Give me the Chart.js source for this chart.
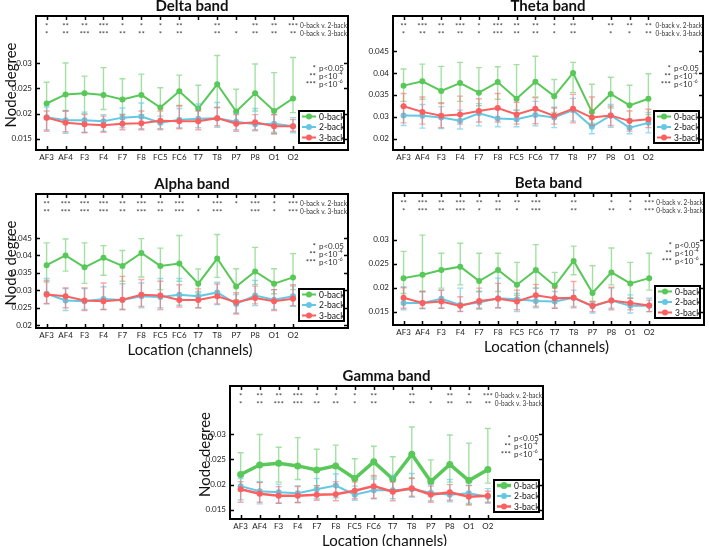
<!DOCTYPE html>
<html><head><meta charset="utf-8">
<script src="https://cdn.jsdelivr.net/npm/chart.js@4/dist/chart.umd.min.js"></script>
<style>
html,body{margin:0;padding:0;background:#fff;}
#wrap{position:relative;width:709px;height:546px;overflow:hidden;}
#wrap canvas{position:absolute;left:0;top:0;}
</style></head><body><div id="wrap">
<canvas id="cDelta" width="709" height="546"></canvas>
<canvas id="cTheta" width="709" height="546"></canvas>
<canvas id="cAlpha" width="709" height="546"></canvas>
<canvas id="cBeta" width="709" height="546"></canvas>
<canvas id="cGamma" width="709" height="546"></canvas>
</div>
<script>
// ---------------- DATA ----------------
const channels = ['AF3','AF4','F3','F4','F7','F8','FC5','FC6','T7','T8','P7','P8','O1','O2'];
const seriesLabels = ['0-back','2-back','3-back'];
const compLabels = ['0-back v. 2-back','0-back v. 3-back'];
const pLegendStars = ['*','**','***'];
const pLegendText = ['p<0.05','p<10','p<10'];
const pLegendExp = ['','-4','-6'];

// Delta band
const deltaMean0 = [0.0220,0.0238,0.0240,0.0237,0.0228,0.0237,0.0212,0.0244,0.0210,0.0258,0.0204,0.0240,0.0205,0.0230];
const deltaHi0   = [0.0262,0.0300,0.0274,0.0291,0.0269,0.0278,0.0251,0.0276,0.0256,0.0315,0.0248,0.0298,0.0281,0.0311];
const deltaLo0   = [0.0188,0.0205,0.0200,0.0208,0.0199,0.0198,0.0180,0.0215,0.0185,0.0212,0.0185,0.0205,0.0160,0.0202];
const deltaMean2 = [0.0193,0.0187,0.0187,0.0185,0.0192,0.0194,0.0182,0.0188,0.0190,0.0191,0.0184,0.0179,0.0180,0.0175];
const deltaHi2   = [0.0213,0.0206,0.0203,0.0198,0.0211,0.0221,0.0195,0.0210,0.0219,0.0222,0.0200,0.0210,0.0198,0.0192];
const deltaLo2   = [0.0168,0.0161,0.0163,0.0165,0.0172,0.0170,0.0168,0.0172,0.0172,0.0173,0.0168,0.0166,0.0163,0.0162];
const deltaMean3 = [0.0192,0.0182,0.0179,0.0177,0.0180,0.0181,0.0186,0.0185,0.0185,0.0191,0.0180,0.0183,0.0175,0.0175];
const deltaHi3   = [0.0205,0.0205,0.0198,0.0195,0.0198,0.0205,0.0205,0.0216,0.0205,0.0212,0.0198,0.0198,0.0198,0.0188];
const deltaLo3   = [0.0165,0.0164,0.0162,0.0163,0.0168,0.0168,0.0170,0.0170,0.0168,0.0176,0.0165,0.0168,0.0160,0.0165];
const deltaStars02 = ['*','**','**','***','*','*','*','**','','**','','**','**','***'];
const deltaStars03 = ['*','**','***','***','**','**','*','**','','**','*','**','**','**'];
const deltaYTicks = [0.015,0.02,0.025,0.03];
const deltaYTickLabels = ['0.015','0.02','0.025','0.03'];

// Theta band
const thetaMean0 = [0.0371,0.0381,0.0359,0.0377,0.0355,0.0379,0.0341,0.0380,0.0347,0.0400,0.0311,0.0352,0.0326,0.0341];
const thetaHi0   = [0.0409,0.0420,0.0415,0.0424,0.0412,0.0414,0.0419,0.0438,0.0385,0.0424,0.0374,0.0390,0.0372,0.0398];
const thetaLo0   = [0.0335,0.0340,0.0330,0.0335,0.0325,0.0340,0.0315,0.0345,0.0310,0.0355,0.0285,0.0320,0.0290,0.0305];
const thetaMean2 = [0.0303,0.0302,0.0298,0.0291,0.0308,0.0296,0.0294,0.0304,0.0298,0.0315,0.0277,0.0303,0.0275,0.0286];
const thetaHi2   = [0.0325,0.0328,0.0323,0.0315,0.0330,0.0320,0.0315,0.0335,0.0322,0.0342,0.0297,0.0328,0.0295,0.0310];
const thetaLo2   = [0.0280,0.0274,0.0273,0.0272,0.0279,0.0277,0.0277,0.0279,0.0275,0.0290,0.0261,0.0276,0.0261,0.0263];
const thetaMean3 = [0.0324,0.0311,0.0302,0.0305,0.0313,0.0320,0.0305,0.0318,0.0302,0.0318,0.0298,0.0303,0.0290,0.0294];
const thetaHi3   = [0.0353,0.0345,0.0332,0.0347,0.0341,0.0353,0.0333,0.0343,0.0320,0.0351,0.0345,0.0324,0.0313,0.0317];
const thetaLo3   = [0.0286,0.0283,0.0275,0.0283,0.0288,0.0288,0.0283,0.0284,0.0283,0.0286,0.0280,0.0280,0.0267,0.0275];
const thetaStars02 = ['**','***','**','***','*','***','**','**','*','**','','**','**','**'];
const thetaStars03 = ['*','**','**','**','*','***','**','**','*','**','','*','*','**'];
const thetaYTicks = [0.025,0.03,0.035,0.04,0.045];
const thetaYTickLabels = ['0.02','0.03','0.035','0.04','0.045'];

// Alpha band
const alphaMean0 = [0.0372,0.0400,0.0366,0.0393,0.0370,0.0407,0.0370,0.0377,0.0319,0.0391,0.0311,0.0354,0.0319,0.0337];
const alphaHi0   = [0.0436,0.0447,0.0436,0.0428,0.0414,0.0448,0.0421,0.0457,0.0361,0.0460,0.0362,0.0423,0.0362,0.0405];
const alphaLo0   = [0.0324,0.0355,0.0320,0.0343,0.0326,0.0338,0.0302,0.0326,0.0293,0.0337,0.0273,0.0317,0.0290,0.0302];
const alphaMean2 = [0.0290,0.0271,0.0269,0.0275,0.0272,0.0283,0.0281,0.0287,0.0283,0.0294,0.0261,0.0285,0.0273,0.0283];
const alphaHi2   = [0.0334,0.0305,0.0305,0.0310,0.0319,0.0321,0.0334,0.0334,0.0297,0.0323,0.0288,0.0328,0.0302,0.0312];
const alphaLo2   = [0.0261,0.0242,0.0245,0.0245,0.0245,0.0250,0.0250,0.0257,0.0250,0.0259,0.0235,0.0256,0.0245,0.0254];
const alphaMean3 = [0.0288,0.0283,0.0271,0.0269,0.0273,0.0287,0.0285,0.0272,0.0272,0.0283,0.0266,0.0278,0.0269,0.0276];
const alphaHi3   = [0.0328,0.0307,0.0307,0.0321,0.0340,0.0331,0.0326,0.0316,0.0304,0.0318,0.0293,0.0312,0.0302,0.0316];
const alphaLo3   = [0.0262,0.0250,0.0242,0.0245,0.0245,0.0254,0.0245,0.0252,0.0250,0.0261,0.0232,0.0261,0.0242,0.0256];
const alphaStars02 = ['**','***','***','***','**','***','**','***','','***','*','***','*','***'];
const alphaStars03 = ['**','***','***','***','**','***','**','***','*','***','','***','*','***'];
const alphaYTicks = [0.02,0.025,0.03,0.035,0.04,0.045];
const alphaYTickLabels = ['0.02','0.025','0.03','0.035','0.04','0.045'];

// Beta band
const betaMean0 = [0.0220,0.0227,0.0237,0.0244,0.0214,0.0237,0.0206,0.0237,0.0204,0.0256,0.0189,0.0232,0.0209,0.0220];
const betaHi0   = [0.0276,0.0310,0.0272,0.0293,0.0272,0.0272,0.0253,0.0290,0.0232,0.0287,0.0246,0.0283,0.0253,0.0272];
const betaLo0   = [0.0188,0.0192,0.0199,0.0206,0.0192,0.0192,0.0184,0.0199,0.0174,0.0227,0.0171,0.0206,0.0178,0.0195];
const betaMean2 = [0.0168,0.0168,0.0177,0.0164,0.0169,0.0178,0.0176,0.0172,0.0171,0.0179,0.0161,0.0173,0.0162,0.0162];
const betaHi2   = [0.0202,0.0192,0.0195,0.0199,0.0192,0.0220,0.0188,0.0199,0.0192,0.0195,0.0168,0.0199,0.0185,0.0178];
const betaLo2   = [0.0154,0.0156,0.0157,0.0151,0.0155,0.0158,0.0150,0.0158,0.0157,0.0161,0.0147,0.0157,0.0147,0.0150];
const betaMean3 = [0.0179,0.0168,0.0171,0.0162,0.0172,0.0177,0.0171,0.0184,0.0178,0.0179,0.0162,0.0173,0.0168,0.0163];
const betaHi3   = [0.0200,0.0192,0.0195,0.0181,0.0199,0.0209,0.0195,0.0207,0.0199,0.0213,0.0171,0.0201,0.0178,0.0174];
const betaLo3   = [0.0157,0.0157,0.0157,0.0150,0.0157,0.0158,0.0154,0.0161,0.0157,0.0158,0.0150,0.0154,0.0154,0.0150];
const betaStars02 = ['**','***','**','***','**','**','**','***','','**','','*','*','***'];
const betaStars03 = ['*','***','**','***','*','**','*','***','','**','','**','*','***'];
const betaYTicks = [0.015,0.02,0.025,0.03];
const betaYTickLabels = ['0.015','0.02','0.025','0.03'];

// Gamma band
const gammaMean0 = [0.0220,0.0239,0.0242,0.0237,0.0229,0.0237,0.0212,0.0245,0.0211,0.0260,0.0206,0.0240,0.0208,0.0230];
const gammaHi0   = [0.0263,0.0299,0.0274,0.0293,0.0270,0.0278,0.0251,0.0276,0.0255,0.0314,0.0249,0.0298,0.0282,0.0311];
const gammaLo0   = [0.0188,0.0205,0.0205,0.0210,0.0198,0.0198,0.0180,0.0215,0.0185,0.0212,0.0185,0.0205,0.0160,0.0203];
const gammaMean2 = [0.0197,0.0187,0.0185,0.0183,0.0191,0.0198,0.0180,0.0189,0.0189,0.0191,0.0184,0.0180,0.0183,0.0176];
const gammaHi2   = [0.0212,0.0206,0.0201,0.0198,0.0212,0.0221,0.0197,0.0211,0.0218,0.0222,0.0200,0.0210,0.0199,0.0192];
const gammaLo2   = [0.0170,0.0162,0.0163,0.0165,0.0172,0.0174,0.0169,0.0172,0.0172,0.0175,0.0168,0.0166,0.0163,0.0163];
const gammaMean3 = [0.0191,0.0182,0.0178,0.0178,0.0180,0.0181,0.0188,0.0197,0.0186,0.0193,0.0180,0.0185,0.0176,0.0178];
const gammaHi3   = [0.0206,0.0204,0.0196,0.0196,0.0198,0.0206,0.0205,0.0218,0.0205,0.0213,0.0197,0.0200,0.0198,0.0187];
const gammaLo3   = [0.0165,0.0165,0.0163,0.0164,0.0169,0.0168,0.0172,0.0173,0.0168,0.0177,0.0165,0.0169,0.0160,0.0165];
const gammaStars02 = ['*','**','**','***','*','*','*','**','','**','','**','*','***'];
const gammaStars03 = ['*','**','***','***','**','**','*','**','','**','*','**','**','**'];
const gammaYTicks = [0.015,0.02,0.025,0.03];
const gammaYTickLabels = ['0.015','0.02','0.025','0.03'];

// ---------------- STYLE ----------------
const FONT = 'Lato, "Open Sans", sans-serif';
const lineColors = ['rgb(88,200,88)','rgb(100,200,228)','rgb(250,96,96)'];
const errColors  = ['rgba(88,200,88,0.55)','rgba(100,200,228,0.65)','rgba(250,96,96,0.55)'];

const Y_W = 34, X_H = 14;

function fitText(ctx, text, x, y, maxW) {
  const w = ctx.measureText(text).width;
  const s = w > maxW ? maxW / w : 1;
  ctx.save();
  ctx.translate(x, y);
  ctx.scale(s, 1);
  ctx.fillText(text, 0, 0);
  ctx.restore();
}

const decorPlugin = {
  id: 'decor',
  beforeDatasetDraw(chart, args) {
    const ds = chart.data.datasets[args.index];
    const xs = chart.scales.x, ys = chart.scales.y;
    const ctx = chart.ctx;
    ctx.save();
    ctx.strokeStyle = ds.errColor;
    ctx.lineWidth = 1.4;
    ds.errHi.forEach((hi, i) => {
      const lo = ds.errLo[i];
      const x = xs.getPixelForValue(i);
      const yh = ys.getPixelForValue(hi), yl = ys.getPixelForValue(lo);
      ctx.beginPath();
      ctx.moveTo(x, yh); ctx.lineTo(x, yl);
      ctx.moveTo(x - 3, yh); ctx.lineTo(x + 3, yh);
      ctx.moveTo(x - 3, yl); ctx.lineTo(x + 3, yl);
      ctx.stroke();
    });
    ctx.restore();
  },
  afterDraw(chart, args, o) {
    const ctx = chart.ctx, a = chart.chartArea;
    const xs = chart.scales.x, ys = chart.scales.y;
    ctx.save();
    // box
    ctx.strokeStyle = '#000'; ctx.lineWidth = 2;
    ctx.strokeRect(a.left, a.top, a.right - a.left, a.bottom - a.top);
    // ticks (inside)
    ctx.lineWidth = 1.5;
    ctx.beginPath();
    o.yTicks.forEach(v => {
      const y = Math.round(ys.getPixelForValue(v)) + 0.5;
      ctx.moveTo(a.left, y); ctx.lineTo(a.left + 4, y);
      ctx.moveTo(a.right, y); ctx.lineTo(a.right - 4, y);
    });
    channels.forEach((c, i) => {
      const x = Math.round(xs.getPixelForValue(i)) + 0.5;
      ctx.moveTo(x, a.bottom); ctx.lineTo(x, a.bottom - 4);
      ctx.moveTo(x, a.top); ctx.lineTo(x, a.top + 4);
    });
    ctx.stroke();
    // title
    ctx.fillStyle = '#111';
    ctx.textAlign = 'center'; ctx.textBaseline = 'middle';
    ctx.font = 'bold 15px ' + FONT;
    ctx.fillText(o.title, (a.left + a.right) / 2, a.top - 10);
    // axis titles
    ctx.font = '15px ' + FONT;
    if (o.yLabel) {
      ctx.save();
      ctx.translate(a.left - 25, (a.top + a.bottom) / 2 + 2);
      ctx.rotate(-Math.PI / 2);
      ctx.fillText(o.yLabel, 0, 0);
      ctx.restore();
    }
    if (o.xLabel) ctx.fillText(o.xLabel, (a.left + a.right) / 2 - 2, a.bottom + 22);
    // significance stars
    ctx.font = '8px ' + FONT;
    [o.stars02, o.stars03].forEach((row, r) => {
      const y = a.top + 10 + r * 8;
      ctx.fillStyle = '#444';
      ctx.textAlign = 'center';
      row.forEach((s, i) => {
        if (s) ctx.fillText(s, xs.getPixelForValue(i), y);
      });
      ctx.textAlign = 'left';
      ctx.fillStyle = '#333';
      const x0 = xs.getPixelForValue(channels.length - 1) + 7;
      fitText(ctx, compLabels[r], x0, y - 1, a.right - 1 - x0);
    });
    // p-value legend
    ctx.fillStyle = '#333';
    pLegendStars.forEach((s, k) => {
      const y = a.top + 52 + k * 8;
      ctx.textAlign = 'right'; ctx.font = '8px ' + FONT;
      ctx.fillText(s, a.right - 32, y);
      ctx.textAlign = 'left';
      ctx.fillText(pLegendText[k], a.right - 29, y);
      if (pLegendExp[k]) {
        const w = ctx.measureText(pLegendText[k]).width;
        ctx.font = '5px ' + FONT;
        ctx.fillText(pLegendExp[k], a.right - 29 + w + 0.5, y - 3);
      }
    });
    // legend box
    const lw = 45, lh = 32;
    const lx = a.right - 4 - lw, ly = a.bottom - 7 - lh;
    ctx.fillStyle = '#fff';
    ctx.fillRect(lx, ly, lw, lh);
    ctx.strokeStyle = '#000'; ctx.lineWidth = 2;
    ctx.strokeRect(lx, ly, lw, lh);
    chart.data.datasets.forEach((ds, k) => {
      const y = ly + 5.5 + k * 10.5;
      ctx.strokeStyle = ds.borderColor; ctx.lineWidth = ds.borderWidth;
      ctx.beginPath(); ctx.moveTo(lx + 3, y); ctx.lineTo(lx + 17, y); ctx.stroke();
      ctx.fillStyle = ds.borderColor;
      ctx.beginPath(); ctx.arc(lx + 10, y, ds.pointRadius, 0, Math.PI * 2); ctx.fill();
      ctx.fillStyle = '#111'; ctx.font = '8.5px ' + FONT;
      ctx.textAlign = 'left'; ctx.textBaseline = 'middle';
      ctx.fillText(ds.label, lx + 20, y + 0.5);
    });
    ctx.restore();
  }
};

function makePanel(id, box, yMin, yMax, yTicks, yTickLabels, means, his, los, stars02, stars03, title, yLabel, xLabel, widths) {
  const datasets = means.map((m, k) => ({
    label: seriesLabels[k],
    data: m.map((v, i) => ({ x: i, y: v })),
    errHi: his[k], errLo: los[k],
    borderColor: lineColors[k], backgroundColor: lineColors[k],
    errColor: errColors[k],
    borderWidth: widths[k], pointRadius: widths[k] > 2.5 ? 3.5 : 3,
    pointBorderWidth: 0, tension: 0, order: 2 - k
  }));
  new Chart(document.getElementById(id), {
    type: 'line',
    data: { datasets },
    options: {
      responsive: false, animation: false, devicePixelRatio: 1,
      layout: { padding: { left: box.left - Y_W, top: box.top, right: 709 - box.right, bottom: 546 - box.bottom - X_H } },
      plugins: {
        legend: { display: false }, tooltip: { enabled: false }, title: { display: false },
        decor: { title, yLabel, xLabel, stars02, stars03, yTicks }
      },
      scales: {
        x: {
          type: 'linear', min: -0.56, max: 15.9,
          grid: { display: false, drawTicks: false }, border: { display: false },
          afterBuildTicks: s => { s.ticks = channels.map((c, i) => ({ value: i })); },
          afterFit: s => { s.height = X_H; },
          ticks: { autoSkip: false, maxRotation: 0, padding: 3, color: '#222', font: { family: FONT, size: 8 },
                   callback: v => channels[v] }
        },
        y: {
          type: 'linear', min: yMin, max: yMax,
          grid: { display: false, drawTicks: false }, border: { display: false },
          afterBuildTicks: s => { s.ticks = yTicks.map(v => ({ value: v })); },
          afterFit: s => { s.width = Y_W; },
          ticks: { padding: 4, color: '#222', font: { family: FONT, size: 8 },
                   callback: (v, i) => yTickLabels[i] }
        }
      }
    },
    plugins: [decorPlugin]
  });
}

makePanel('cDelta', { left: 36, top: 16, right: 348, bottom: 150 }, 0.0128, 0.0393, deltaYTicks, deltaYTickLabels,
  [deltaMean0, deltaMean2, deltaMean3], [deltaHi0, deltaHi2, deltaHi3], [deltaLo0, deltaLo2, deltaLo3],
  deltaStars02, deltaStars03, 'Delta band', 'Node degree', '', [2, 2, 2]);
makePanel('cTheta', { left: 393, top: 16, right: 703, bottom: 150 }, 0.0224, 0.0530, thetaYTicks, thetaYTickLabels,
  [thetaMean0, thetaMean2, thetaMean3], [thetaHi0, thetaHi2, thetaHi3], [thetaLo0, thetaLo2, thetaLo3],
  thetaStars02, thetaStars03, 'Theta band', '', '', [2, 2, 2]);
makePanel('cAlpha', { left: 36, top: 194, right: 348, bottom: 328 }, 0.0192, 0.0576, alphaYTicks, alphaYTickLabels,
  [alphaMean0, alphaMean2, alphaMean3], [alphaHi0, alphaHi2, alphaHi3], [alphaLo0, alphaLo2, alphaLo3],
  alphaStars02, alphaStars03, 'Alpha band', 'Node degree', 'Location (channels)', [2, 2, 2]);
makePanel('cBeta', { left: 393, top: 193, right: 704, bottom: 325 }, 0.0122, 0.0398, betaYTicks, betaYTickLabels,
  [betaMean0, betaMean2, betaMean3], [betaHi0, betaHi2, betaHi3], [betaLo0, betaLo2, betaLo3],
  betaStars02, betaStars03, 'Beta band', '', 'Location (channels)', [2, 2, 2]);
makePanel('cGamma', { left: 230, top: 386, right: 543, bottom: 519 }, 0.0132, 0.0395, gammaYTicks, gammaYTickLabels,
  [gammaMean0, gammaMean2, gammaMean3], [gammaHi0, gammaHi2, gammaHi3], [gammaLo0, gammaLo2, gammaLo3],
  gammaStars02, gammaStars03, 'Gamma band', 'Node degree', 'Location (channels)', [3.5, 2, 2.5]);
</script>
</body></html>
